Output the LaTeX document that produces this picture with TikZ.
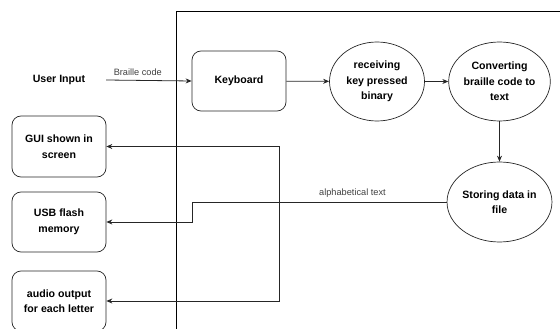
\documentclass[tikz,border=0pt]{standalone}
\usepackage{fontspec}
\setmainfont{Liberation Sans}
\usetikzlibrary{shapes.geometric,arrows.meta}
\begin{document}
\begin{tikzpicture}[x=1pt,y=-1pt,
  box/.style={draw=black!85, rounded corners=9pt, minimum width=94pt, minimum height=60pt, align=center, font=\bfseries\fontsize{10.6}{15.5}\selectfont, line width=0.7pt},
  oval/.style={ellipse, draw=black!85, minimum width=95pt, minimum height=79pt, inner sep=0pt, align=center, font=\bfseries\fontsize{10.6}{15.5}\selectfont, line width=0.7pt},
  plain/.style={minimum width=94pt, inner sep=0pt, font=\bfseries\fontsize{10.6}{13}\selectfont},
  conn/.style={draw=black!85, line width=0.8pt, -{Stealth[length=6pt,width=5pt]}},
  lbl/.style={font=\fontsize{9.2}{11}\selectfont, text=black!75}]
\useasboundingbox (0,0) rectangle (560,329);
% frame
\draw[line width=0.7pt] (176,329) -- (176,11) -- (561,11);
% nodes
\node[plain] (user) at (59,80) {User Input};
\node[box] (kb) at (239,81) {Keyboard};
\node[oval] (rec) at (377,81.5) {receiving\\key pressed\\binary};
\node[oval] (conv) at (499.5,81.5) {Converting\\braille code to\\text};
\node[oval, minimum height=80pt] (store) at (499.5,202) {Storing data in\\file};
\node[box, minimum height=61pt] (gui) at (59,146.5) {GUI shown in\\screen};
\node[box] (usb) at (59,222) {USB flash\\memory};
\node[box] (audio) at (59,301) {audio output\\for each letter};
% connectors
\draw[conn] (user.east) -- node[lbl, above=1pt, pos=0.37] {Braille code} (kb.west);
\draw[conn] (kb) -- (rec);
\draw[conn] (rec) -- (conv);
\draw[conn] (conv) -- (store);
\draw[conn] (store.west) -- node[lbl, above=1pt, pos=0.37] {alphabetical text} (192,202) -- (192,222) -- (usb.east);
\draw[conn] (store.west) -- (279.5,202) |- (gui.east);
\draw[conn] (store.west) -- (279.5,202) |- (audio.east);
\end{tikzpicture}
\end{document}
